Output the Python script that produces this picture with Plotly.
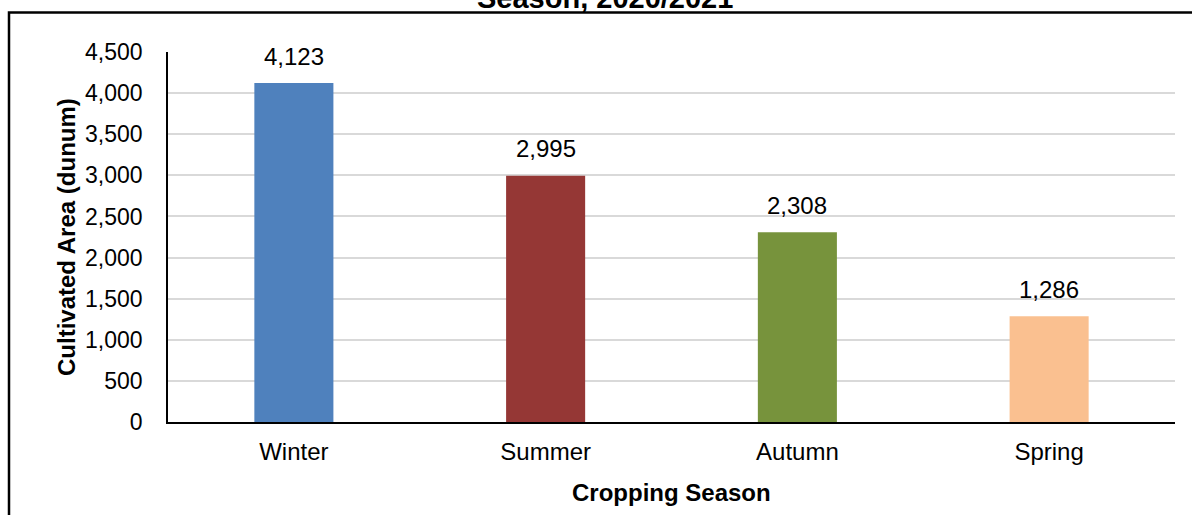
import plotly.graph_objects as go

seasons = ["Winter", "Summer", "Autumn", "Spring"]
area = [4123, 2995, 2308, 1286]
colors = ["#4F81BD", "#953735", "#77933C", "#FAC090"]
y_ticks = [0, 500, 1000, 1500, 2000, 2500, 3000, 3500, 4000, 4500]
title_text = "Season, 2020/2021"
x_title = "Cropping Season"
y_title = "Cultivated Area (dunum)"

FONT = "Liberation Sans, Arial, sans-serif"
PL, PR, PT, PB = 168, 1175, 52, 422   # plot-area edges in pixels
PW, PH = PR - PL, PB - PT

fig = go.Figure()
fig.add_trace(go.Bar(
    x=seasons, y=area, marker=dict(color=colors, line=dict(width=0)),
    width=0.314, hoverinfo="x+y",
))

for s, v in zip(seasons, area):
    fig.add_annotation(x=s, y=v, text=f"{v:,}", showarrow=False,
                       yanchor="middle", yshift=27,
                       font=dict(family=FONT, size=24, color="#000000"))

# axis titles
fig.add_annotation(xref="paper", yref="paper", x=0.5, y=(PB - 492) / PH, text=f"<b>{x_title}</b>",
                   showarrow=False, xanchor="center", yanchor="middle",
                   font=dict(family=FONT, size=24, color="#000000"))
fig.add_annotation(xref="paper", yref="paper", x=(66 - PL) / PW, y=0.5, text=f"<b>{y_title}</b>",
                   showarrow=False, textangle=-90, xanchor="center", yanchor="middle",
                   font=dict(family=FONT, size=24, color="#000000"))
# clipped chart title (only its lower part is visible at the top edge)
fig.add_annotation(xref="paper", yref="paper", x=(605 - PL) / PW, y=(PB - 16) / PH,
                   text=f"<b>{title_text}</b>", showarrow=False, xanchor="center", yanchor="bottom",
                   font=dict(family=FONT, size=29, color="#000000"))

# outer chart border (only left and top visible)
fig.add_shape(type="rect", xref="paper", yref="paper",
              x0=(9 - PL) / PW, x1=1.2, y0=-0.5, y1=(PB - 12.5) / PH,
              line=dict(color="#000000", width=2.5), fillcolor="rgba(0,0,0,0)", layer="below")

fig.update_layout(
    width=1192, height=515,
    margin=dict(l=PL, r=1192 - PR, t=PT, b=515 - PB),
    paper_bgcolor="#FFFFFF", plot_bgcolor="#FFFFFF",
    showlegend=False,
    font=dict(family=FONT, size=24, color="#000000"),
    xaxis=dict(showline=True, linecolor="#000000", linewidth=1.5, ticks="",
               ticklabelstandoff=7, tickfont=dict(size=24), showgrid=False),
    yaxis=dict(range=[0, 4500], tickvals=y_ticks, tickformat=",d",
               showline=True, linecolor="#000000", linewidth=1.5, ticks="",
               gridcolor="#D9D9D9", gridwidth=1.5, zeroline=False,
               ticklabelstandoff=19, tickfont=dict(size=23)),
)

fig.write_html("out.html", config={"displayModeBar": False},
               post_script="document.body.style.margin='0';")
